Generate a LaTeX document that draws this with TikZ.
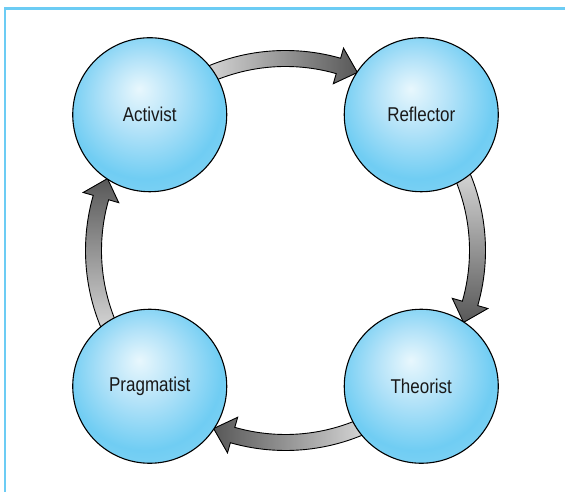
\documentclass[tikz,border=0pt]{standalone}
\usepackage{fontspec}
\newfontfamily\labfont[FakeStretch=0.85]{Liberation Sans}
\definecolor{frameblue}{RGB}{108,204,244}
\definecolor{ballc}{RGB}{232,247,253}
\definecolor{balll}{RGB}{178,226,248}
\definecolor{ballmid}{RGB}{112,205,243}
\definecolor{ballrim}{RGB}{168,222,247}
\definecolor{arrlight}{RGB}{240,240,240}
\definecolor{arrdark}{RGB}{88,88,88}
\definecolor{labtext}{RGB}{25,25,25}
\pgfdeclareradialshading{sphere}{\pgfpoint{-3.5bp}{8.5bp}}{%
  color(0bp)=(ballc); color(12bp)=(balll); color(25bp)=(ballmid);
  color(31bp)=(ballmid!75!ballrim); color(38bp)=(ballrim); color(50bp)=(ballrim)}
\tikzset{
  ball/.style={circle, draw=black, line width=1.1pt, minimum size=154pt, inner sep=0pt,
    shading=sphere, text=labtext, font=\labfont\fontsize{20}{23}\selectfont},
  arrowbody/.style={draw=black, line width=0.9pt, line join=miter}
}
\newcommand{\ringarrow}[3]{%
  \path[arrowbody,#3,shift={(O)}]
    (#1:200) arc[start angle=#1, end angle=#2+6, radius=200]
    -- (#2+6:210.5) -- (#2:192) -- (#2+6:173.5) -- (#2+6:184)
    arc[start angle=#2+6, end angle=#1, radius=184] -- cycle;}
\begin{document}
\begin{tikzpicture}[x=1pt,y=1pt]
\useasboundingbox (0,0) rectangle (565,492);
\fill[white] (0,0) rectangle (565,492);
\coordinate (O) at (285.5,241.5);
\coordinate (fa) at (565,483.5);
\coordinate (fb) at (5,483.5);
\coordinate (fc) at (5,0);
\draw[frameblue, line width=2.2pt] (fa) -- (fb) -- (fc);
% arrows
\ringarrow{124}{68}{left color=arrlight, right color=arrdark}
\ringarrow{34}{-22}{top color=arrlight, bottom color=arrdark}
\ringarrow{-56}{-112}{right color=arrlight, left color=arrdark}
\ringarrow{214}{158}{bottom color=arrlight, top color=arrdark}
% circles
\node[ball] (act) at ([shift={(135:192)}]O) {Activist};
\node[ball] (ref) at ([shift={(45:192)}]O) {Reflector};
\node[ball] (the) at ([shift={(-45:192)}]O) {Theorist};
\node[ball] (pra) at ([shift={(-135:192)}]O) {Pragmatist};
\end{tikzpicture}
\end{document}
